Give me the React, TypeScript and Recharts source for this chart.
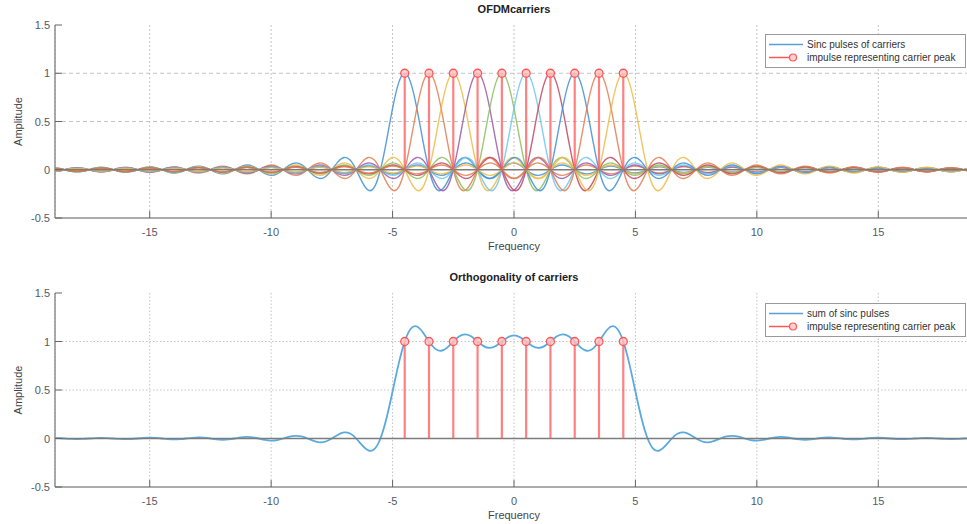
import React from "react";
import {
  ComposedChart,
  Line,
  Scatter,
  XAxis,
  YAxis,
  CartesianGrid,
  ReferenceLine,
  Legend,
} from "recharts";

// subcarrier centre frequencies and their peak amplitudes
const CARRIER_CENTERS = [-4.5, -3.5, -2.5, -1.5, -0.5, 0.5, 1.5, 2.5, 3.5, 4.5];
const PEAK_AMPLITUDES = [1, 1, 1, 1, 1, 1, 1, 1, 1, 1];

// line colours, cycled per carrier
const CARRIER_COLORS = ["#3f8fd2", "#e27c52", "#efbb45", "#9a5aa8", "#8cbf5e", "#6fc6ef", "#c2455e"];

// sinc pulse shape sampled at quarter-unit offsets from the centre (0 .. 23.5)
const SAMPLE_STEP = 0.25;
const PULSE_SHAPE = [
  1, 0.9003, 0.6366, 0.3001,
  0, -0.1801, -0.2122, -0.1286,
  0, 0.1, 0.1273, 0.0818,
  0, -0.0693, -0.0909, -0.06,
  0, 0.053, 0.0707, 0.0474,
  0, -0.0429, -0.0579, -0.0391,
  0, 0.036, 0.049, 0.0333,
  0, -0.031, -0.0424, -0.029,
  0, 0.0273, 0.0374, 0.0257,
  0, -0.0243, -0.0335, -0.0231,
  0, 0.022, 0.0303, 0.0209,
  0, -0.02, -0.0277, -0.0192,
  0, 0.0184, 0.0255, 0.0177,
  0, -0.017, -0.0236, -0.0164,
  0, 0.0158, 0.022, 0.0153,
  0, -0.0148, -0.0205, -0.0143,
  0, 0.0139, 0.0193, 0.0134,
  0, -0.013, -0.0182, -0.0127,
  0, 0.0123, 0.0172, 0.012,
  0, -0.0117, -0.0163, -0.0114,
  0, 0.0111, 0.0155, 0.0108,
  0, -0.0106, -0.0148, -0.0103,
  0, 0.0101, 0.0141, 0.0099,
  0, -0.0097, -0.0135,
];

const FREQ_SPAN = [-19, 19];
const FREQ_DOMAIN = [-18.9, 18.9];
const FREQ_TICKS = [-15, -10, -5, 0, 5, 10, 15];
const AMP_TICKS = [-0.5, 0, 0.5, 1, 1.5];

const pulseAt = (offset: number) => PULSE_SHAPE[Math.round(Math.abs(offset) / SAMPLE_STEP)] ?? 0;

const rows: Record<string, number>[] = [];
const nSamples = Math.round((FREQ_SPAN[1] - FREQ_SPAN[0]) / SAMPLE_STEP);
for (let i = 0; i <= nSamples; i++) {
  const x = FREQ_SPAN[0] + i * SAMPLE_STEP;
  const row: Record<string, number> = { x };
  let sum = 0;
  CARRIER_CENTERS.forEach((c, k) => {
    const v = PEAK_AMPLITUDES[k] * pulseAt(x - c);
    row[`c${k}`] = v;
    sum += v;
  });
  row.sum = sum;
  rows.push(row);
}

const peaks = CARRIER_CENTERS.map((x, k) => ({ x, amp: PEAK_AMPLITUDES[k] }));

const FONT = "'Liberation Sans', Arial, sans-serif";
const TICK_COLOR = "#555a66";
const AXIS_COLOR = "#8f8f8f";
const STEM_COLOR = "#ff5555";

const XTick = ({ x, y, payload }: any) => (
  <g>
    <line x1={x} x2={x} y1={y} y2={y - 7} stroke="#666" strokeWidth={1} />
    <text x={x} y={y + 18} textAnchor="middle" fontSize={11} fill={TICK_COLOR} fontFamily={FONT}>
      {payload.value}
    </text>
  </g>
);

const YTick = ({ x, y, payload }: any) => (
  <g>
    <line x1={x} x2={x + 7} y1={y} y2={y} stroke="#666" strokeWidth={1} />
    <text x={x - 5} y={y + 4} textAnchor="end" fontSize={11} fill={TICK_COLOR} fontFamily={FONT}>
      {payload.value}
    </text>
  </g>
);

function LegendBox({ first }: { first: string }) {
  const row = (label: string, color: string, marker: boolean) => (
    <div style={{ display: "flex", alignItems: "center", height: 13 }}>
      <svg width={38} height={13}>
        <line x1={3} x2={marker ? 30 : 37} y1={6.5} y2={6.5} stroke={color} strokeWidth={1.5} />
        {marker && <circle cx={27} cy={6.5} r={3.5} fill="#ffd0d0" stroke={color} strokeWidth={1.2} />}
      </svg>
      <span style={{ marginLeft: 3, whiteSpace: "nowrap" }}>{label}</span>
    </div>
  );
  return (
    <div
      style={{
        boxSizing: "border-box",
        width: 201,
        padding: "3px 0 3px 0",
        border: "1px solid #999",
        background: "#fff",
        fontSize: 10,
        color: "#333",
        fontFamily: FONT,
        lineHeight: "13px",
      }}
    >
      {row(first, "#5a9fd8", false)}
      {row("impulse representing carrier peak", STEM_COLOR, true)}
    </div>
  );
}

function Panel({
  top,
  height,
  bottomMargin,
  title,
  legendLabel,
  legendTop,
  showCarriers,
  hDash,
  vDash,
}: {
  top: number;
  height: number;
  bottomMargin: number;
  title: string;
  legendLabel: string;
  legendTop: number;
  showCarriers: boolean;
  hDash: string;
  vDash: string;
}) {
  return (
    <div style={{ position: "absolute", left: 0, top, width: 973, height }}>
      <div
        style={{
          position: "absolute",
          left: 55,
          width: 918,
          top: 3,
          textAlign: "center",
          fontFamily: FONT,
          fontWeight: "bold",
          fontSize: 11,
          color: "#222",
        }}
      >
        {title}
      </div>
      <ComposedChart
        width={973}
        height={height}
        data={rows}
        margin={{ top: 25, right: 0, bottom: bottomMargin, left: 0 }}
      >
        <CartesianGrid horizontal={false} stroke="#c4c4c4" strokeDasharray={vDash} />
        <CartesianGrid vertical={false} horizontalValues={[0.5, 1]} stroke="#c4c4c4" strokeDasharray={hDash} />
        <XAxis
          type="number"
          dataKey="x"
          domain={FREQ_DOMAIN}
          allowDataOverflow
          ticks={FREQ_TICKS}
          height={30}
          tickSize={0}
          tickMargin={0}
          tickLine={false}
          tick={<XTick />}
          axisLine={{ stroke: AXIS_COLOR, strokeWidth: 1.5 }}
          label={{
            value: "Frequency",
            position: "insideBottom",
            offset: -2,
            fontSize: 11,
            fill: "#444",
            fontFamily: FONT,
          }}
        />
        <YAxis
          type="number"
          domain={[-0.5, 1.5]}
          ticks={AMP_TICKS}
          width={55}
          tickSize={0}
          tickMargin={0}
          tickLine={false}
          tick={<YTick />}
          axisLine={{ stroke: AXIS_COLOR, strokeWidth: 1.5 }}
          label={{
            value: "Amplitude",
            position: "insideLeft",
            angle: -90,
            offset: 18,
            fontSize: 11,
            fill: "#444",
            fontFamily: FONT,
            style: { textAnchor: "middle" },
          }}
        />
        {showCarriers &&
          CARRIER_CENTERS.map((_, k) => (
            <Line
              key={k}
              dataKey={`c${k}`}
              type="natural"
              stroke={CARRIER_COLORS[k % CARRIER_COLORS.length]}
              strokeWidth={1.4}
              strokeOpacity={0.85}
              dot={false}
              activeDot={false}
              isAnimationActive={false}
            />
          ))}
        {!showCarriers && (
          <Line
            dataKey="sum"
            type="natural"
            stroke="#5aaae0"
            strokeWidth={1.8}
            dot={false}
            activeDot={false}
            isAnimationActive={false}
          />
        )}
        <ReferenceLine y={0} stroke="#7c7c7c" strokeWidth={1.5} />
        {peaks.map((p) => (
          <ReferenceLine
            key={p.x}
            segment={[
              { x: p.x, y: 0 },
              { x: p.x, y: p.amp },
            ]}
            stroke={STEM_COLOR}
            strokeOpacity={0.75}
            strokeWidth={2.2}
          />
        ))}
        <Scatter
          data={peaks}
          dataKey="amp"
          isAnimationActive={false}
          shape={(props: any) => (
            <circle cx={props.cx} cy={props.cy} r={4} fill="#ffc4c4" fillOpacity={0.8} stroke={STEM_COLOR} strokeWidth={1.3} />
          )}
        />
        <Legend
          layout="horizontal"
          verticalAlign="middle"
          align="center"
          wrapperStyle={{ left: 765, top: legendTop, width: 201 }}
          content={() => <LegendBox first={legendLabel} />}
        />
      </ComposedChart>
    </div>
  );
}

export default function App() {
  return (
    <div
      style={{
        position: "absolute",
        left: 0,
        top: 0,
        width: 967,
        height: 524,
        overflow: "hidden",
        background: "#fff",
      }}
    >
      <Panel
        top={0}
        height={262}
        bottomMargin={14}
        title="OFDMcarriers"
        legendLabel="Sinc pulses of carriers"
        legendTop={34}
        showCarriers
        hDash="4 3"
        vDash="2 2"
      />
      <Panel
        top={268}
        height={256}
        bottomMargin={7}
        title="Orthogonality of carriers"
        legendLabel="sum of sinc pulses"
        legendTop={35}
        showCarriers={false}
        hDash="1.5 2"
        vDash="1.5 2"
      />
    </div>
  );
}
